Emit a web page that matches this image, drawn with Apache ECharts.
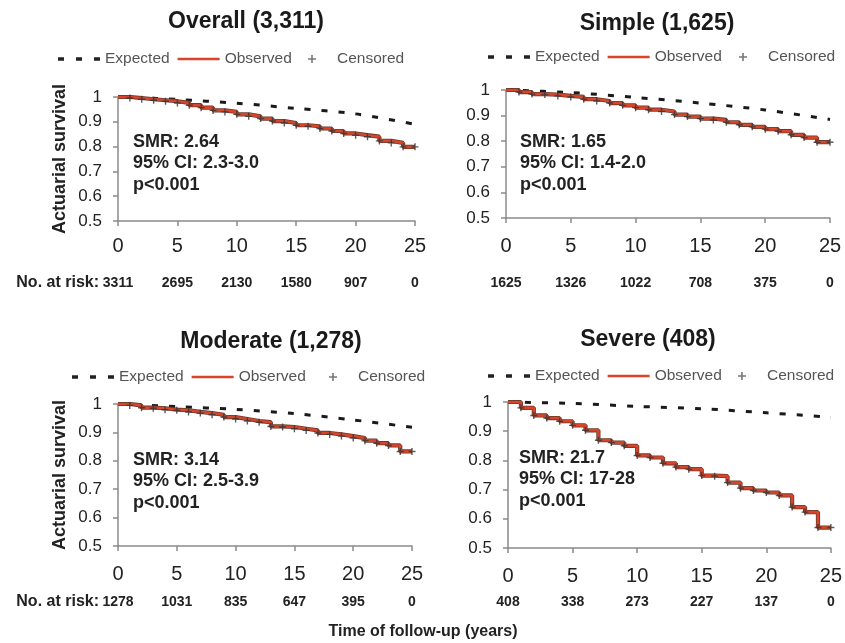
<!DOCTYPE html>
<html><head><meta charset="utf-8">
<script src="https://cdn.jsdelivr.net/npm/echarts@6/dist/echarts.min.js"></script>
<style>html,body{margin:0;padding:0;background:#fff}#c{width:845px;height:643px}</style>
</head><body><div id="c"></div>
<script>
// ---- data ----
const years = [0,1,2,3,4,5,6,7,8,9,10,11,12,13,14,15,16,17,18,19,20,21,22,23,24,25];
const expYears = [0,5,10,15,20,25];
const xTicks = [0,5,10,15,20,25];

const overallObs = [1.0,0.996,0.991,0.987,0.983,0.976,0.967,0.957,0.946,0.94,0.93,0.922,0.913,0.903,0.895,0.886,0.882,0.873,0.863,0.853,0.846,0.84,0.823,0.815,0.799,0.799];
const overallExp = [1.0,0.99,0.975,0.954,0.932,0.89];
const overallRisk = [3311,2695,2130,1580,907,0];

const simpleObs = [1.0,0.992,0.984,0.982,0.977,0.973,0.964,0.957,0.949,0.94,0.931,0.923,0.916,0.904,0.896,0.888,0.883,0.874,0.864,0.856,0.847,0.839,0.825,0.814,0.796,0.796];
const simpleExp = [1.0,0.99,0.971,0.949,0.922,0.885];
const simpleRisk = [1625,1326,1022,708,375,0];

const moderateObs = [1.0,0.995,0.987,0.985,0.98,0.978,0.972,0.968,0.962,0.954,0.947,0.94,0.936,0.921,0.919,0.913,0.907,0.898,0.893,0.887,0.88,0.871,0.862,0.854,0.833,0.833];
const moderateExp = [1.0,0.991,0.981,0.966,0.944,0.918];
const moderateRisk = [1278,1031,835,647,395,0];

const severeObs = [1.0,0.98,0.954,0.945,0.934,0.92,0.903,0.869,0.861,0.85,0.817,0.81,0.79,0.777,0.77,0.748,0.746,0.724,0.705,0.697,0.69,0.68,0.64,0.623,0.57,0.57];
const severeExp = [1.0,0.995,0.985,0.977,0.963,0.948];
const severeRisk = [408,338,273,227,137,0];

const titles = ['Overall (3,311)','Simple (1,625)','Moderate (1,278)','Severe (408)'];
const smrLines = [
  ['SMR: 2.64','95% CI: 2.3-3.0','p<0.001'],
  ['SMR: 1.65','95% CI: 1.4-2.0','p<0.001'],
  ['SMR: 3.14','95% CI: 2.5-3.9','p<0.001'],
  ['SMR: 21.7','95% CI: 17-28','p<0.001']
];
const yAxisTitle = 'Actuarial survival';
const xAxisTitle = 'Time of follow-up (years)';
const riskLabel = 'No. at risk:';

// ---- layout ----
const FONT = "'Liberation Sans', Arial, Helvetica, sans-serif";
const panels = [
  {obs: overallObs, exp: overallExp, risk: overallRisk, grid:{left:118,top:97,width:297,height:124}, title:[246,22], legend:[53,55,303], smr:[133,142], riskOff:51, xMargin:15, yName:true},
  {obs: simpleObs, exp: simpleExp, risk: simpleRisk, grid:{left:506,top:90,width:324,height:128}, title:[657,24], legend:[483,53,734], smr:[520,142], riskOff:54, xMargin:18, yName:false},
  {obs: moderateObs, exp: moderateExp, risk: moderateRisk, grid:{left:118,top:404,width:294,height:142}, title:[271,342], legend:[67,373,324], smr:[133,460], riskOff:45, xMargin:18, yName:true},
  {obs: severeObs, exp: severeExp, risk: severeRisk, grid:{left:508,top:402,width:325,height:146}, title:[648,340], legend:[483,372,733], smr:[519,458], riskOff:43, xMargin:18, yName:false}
];

const PLUS = 'path://M4,0H6V4H10V6H6V10H4V6H0V4H4Z';
const DASH3 = 'path://M0,0H5V3H0Z M15,0H20V3H15Z M30,0H35V3H30Z';
const LINEICON = 'path://M0,0H42V2.6H0Z';
const RED = '#d8452b';

const grids=[], xAxes=[], yAxes=[], series=[], legends=[], graphics=[];
panels.forEach((p,i)=>{
  grids.push(Object.assign({containLabel:false}, p.grid));
  const axisLine = {show:true, lineStyle:{color:'#8a8a8a', width:1.5}};
  xAxes.push({gridIndex:i, type:'value', min:0, max:25, interval:5,
    axisLine: axisLine, axisTick:{show:true, inside:false, length:5, lineStyle:{color:'#8a8a8a', width:1.5}},
    splitLine:{show:false},
    axisLabel:{fontFamily:FONT, fontSize:20, color:'#222', margin:p.xMargin}});
  xAxes.push({gridIndex:i, type:'value', min:0, max:25, interval:5, position:'bottom', offset:p.riskOff,
    axisLine:{show:false}, axisTick:{show:false}, splitLine:{show:false},
    axisLabel:{fontFamily:FONT, fontSize:14, fontWeight:'bold', color:'#222', margin:4,
      formatter:(v)=>{const k=xTicks.indexOf(v); return k>=0? String(p.risk[k]) : '';}}});
  yAxes.push({gridIndex:i, type:'value', min:0.5, max:1, interval:0.1,
    axisLine: axisLine, axisTick:{show:true, inside:false, length:5, lineStyle:{color:'#8a8a8a', width:1.5}},
    splitLine:{show:false},
    name: p.yName ? yAxisTitle : '', nameLocation:'middle', nameGap:49, nameRotate:90,
    nameTextStyle:{fontFamily:FONT, fontSize:18, fontWeight:'bold', color:'#222'},
    axisLabel:{fontFamily:FONT, fontSize:17, color:'#222', margin:16,
      formatter:(v)=>String(Math.round(v*10)/10)}});
  const xi = i*2;
  series.push({name:'Expected', type:'line', xAxisIndex:xi, yAxisIndex:i, smooth:0.3, symbol:'none',
    data: expYears.map((x,k)=>[x, p.exp[k]]),
    lineStyle:{color:'#1a1a1a', width:3, type:[6,11]}, itemStyle:{color:'#1a1a1a'}, z:3});
  series.push({name:'ObsEdge', type:'line', xAxisIndex:xi, yAxisIndex:i, step:'end', symbol:'none',
    data: years.map((x,k)=>[x, p.obs[k]]),
    lineStyle:{color:'#6b3b2e', width:4.2}, itemStyle:{color:'#6b3b2e'}, z:4, silent:true});
  series.push({name:'Observed', type:'line', xAxisIndex:xi, yAxisIndex:i, step:'end', symbol:'none',
    data: years.map((x,k)=>[x, p.obs[k]]),
    lineStyle:{color:RED, width:2.6}, itemStyle:{color:RED}, z:5});
  series.push({name:'Censored', type:'scatter', xAxisIndex:xi, yAxisIndex:i, symbol:PLUS, symbolSize:7,
    data: years.slice(1).map((x)=>[x, p.obs[x]]),
    itemStyle:{color:'#333'}, z:6});
  legends.push({left:p.legend[0], top:p.legend[1]-9, itemWidth:42, itemHeight:10, itemGap:8,
    symbolKeepAspect:true,
    data:[{name:'Expected', icon:DASH3, itemStyle:{color:'#222'}},
          {name:'Observed', icon:LINEICON, itemStyle:{color:RED}}],
    textStyle:{fontFamily:FONT, fontSize:15.5, color:'#555'}, selectedMode:false});
  legends.push({left:p.legend[2], top:p.legend[1]-9, itemWidth:8, itemHeight:8,
    data:[{name:'Censored', icon:PLUS, itemStyle:{color:'#555'}}],
    textStyle:{fontFamily:FONT, fontSize:15.5, color:'#555', padding:[0,0,0,16]}, selectedMode:false});
  graphics.push({type:'text', x:p.title[0], y:p.title[1],
    style:{text:titles[i], font:"bold 23px "+FONT, fill:'#1a1a1a', align:'center', verticalAlign:'middle'}});
  smrLines[i].forEach((t,k)=>{
    graphics.push({type:'text', x:p.smr[0], y:p.smr[1]+k*21.5,
      style:{text:t, font:"bold 18px "+FONT, fill:'#222', align:'left', verticalAlign:'middle'}});
  });
});
graphics.push({type:'text', x:99, y:283, style:{text:riskLabel, font:"bold 16px "+FONT, fill:'#222', align:'right', verticalAlign:'middle'}});
graphics.push({type:'text', x:99, y:602, style:{text:riskLabel, font:"bold 16px "+FONT, fill:'#222', align:'right', verticalAlign:'middle'}});
graphics.push({type:'text', x:423, y:632, style:{text:xAxisTitle, font:"bold 16px "+FONT, fill:'#222', align:'center', verticalAlign:'middle'}});

const chart = echarts.init(document.getElementById('c'), null, {renderer:'canvas'});
chart.setOption({
  animation:false,
  backgroundColor:'#fff',
  grid:grids, xAxis:xAxes, yAxis:yAxes, series:series, legend:legends, graphic:graphics
});
</script>
</body></html>
